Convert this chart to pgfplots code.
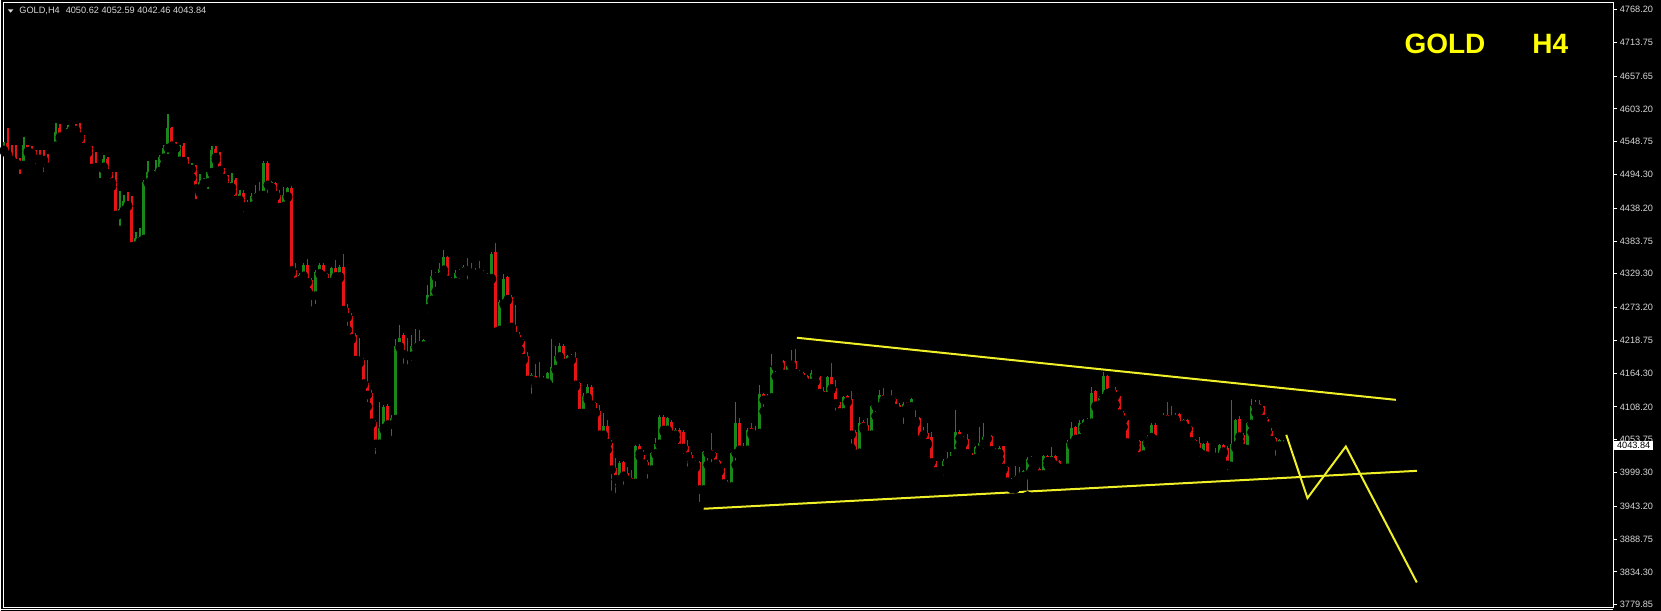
\documentclass[border=0pt]{standalone}
\usepackage{fontspec}
\setmainfont{Liberation Sans}
\usepackage{pgfplots}
\usepackage{pgfplotstable}
\pgfplotsset{compat=1.18}
\definecolor{bullc}{RGB}{25,135,25}
\definecolor{bearc}{RGB}{230,20,20}
\definecolor{ylw}{RGB}{240,240,40}
\definecolor{gylw}{RGB}{255,255,0}
\definecolor{lbl}{RGB}{215,215,215}

\pgfplotstableread{
i o h l c
0 4535 4549 4532 4546
1 4546 4572 4524 4527
2 4530 4543 4510 4518
3 4521 4543 4507 4513
4 4516 4521 4488 4510
5 4510 4557 4508 4543
6 4543 4544 4530 4533
7 4538 4541 4518 4530
8 4531 4535 4505 4520
9 4522 4535 4510 4520
10 4521 4535 4491 4518
11 4520 4528 4502 4507
12 4507 4511 4503 4509
13 4542 4579 4532 4565
14 4571 4578 4554 4557
15 4559 4567 4552 4564
16 4563 4576 4553 4571
17 4569 4575 4554 4571
18 4571 4578 4563 4568
19 4573 4579 4554 4557
20 4557 4559 4526 4540
21 4542 4543 4530 4537
22 4539 4541 4502 4505
23 4508 4532 4505 4506
24 4506 4513 4481 4510
25 4507 4527 4502 4520
26 4520 4524 4494 4496
27 4496 4499 4474 4481
28 4481 4498 4424 4427
29 4428 4466 4402 4437
30 4435 4460 4433 4450
31 4449 4465 4441 4443
32 4447 4458 4369 4375
33 4376 4399 4369 4388
34 4383 4405 4377 4390
35 4387 4485 4380 4482
36 4481 4517 4480 4498
37 4499 4500 4488 4494
38 4491 4518 4488 4502
39 4500 4527 4499 4524
40 4522 4543 4510 4538
41 4538 4594 4521 4572
42 4572 4573 4539 4542
43 4546 4549 4537 4538
44 4517 4543 4516 4541
45 4541 4546 4510 4516
46 4517 4524 4499 4505
47 4503 4513 4489 4507
48 4507 4510 4446 4471
49 4471 4495 4463 4481
50 4480 4488 4477 4485
51 4481 4499 4463 4498
52 4498 4541 4496 4535
53 4536 4541 4518 4523
54 4528 4532 4491 4501
55 4502 4505 4482 4488
56 4491 4494 4460 4473
57 4473 4496 4466 4482
58 4485 4488 4449 4452
59 4452 4469 4438 4462
60 4464 4469 4425 4441
61 4441 4452 4433 4445
62 4442 4463 4423 4458
63 4456 4477 4446 4463
64 4464 4482 4458 4460
65 4460 4516 4458 4513
66 4513 4516 4456 4477
67 4473 4484 4470 4481
68 4480 4482 4458 4460
69 4460 4469 4435 4440
70 4442 4474 4427 4460
71 4458 4473 4456 4471
72 4471 4475 4331 4335
73 4336 4347 4313 4316
74 4319 4331 4311 4328
75 4326 4348 4311 4344
76 4344 4354 4300 4315
77 4319 4322 4268 4293
78 4293 4335 4272 4333
79 4330 4347 4328 4344
80 4344 4348 4322 4326
81 4329 4331 4313 4315
82 4316 4341 4315 4339
83 4339 4352 4322 4325
84 4325 4344 4322 4341
85 4341 4363 4264 4269
86 4272 4279 4236 4257
87 4259 4264 4220 4222
88 4228 4231 4173 4186
89 4185 4222 4181 4188
90 4186 4189 4145 4147
91 4148 4186 4109 4128
92 4131 4137 4080 4082
93 4084 4086 4023 4047
94 4047 4117 4037 4073
95 4073 4112 4070 4108
96 4110 4113 4076 4079
97 4079 4095 4053 4090
98 4088 4221 4073 4210
99 4209 4245 4206 4222
100 4228 4231 4173 4196
101 4199 4222 4171 4193
102 4193 4228 4178 4210
103 4207 4237 4197 4214
104 4214 4236 4203 4210
105 4210 4221 4207 4220
106 4272 4311 4258 4294
107 4286 4336 4283 4326
108 4328 4333 4300 4324
109 4324 4348 4320 4337
110 4336 4368 4331 4357
111 4358 4359 4316 4319
112 4322 4324 4305 4315
113 4315 4336 4308 4331
114 4329 4337 4314 4336
115 4333 4344 4330 4341
116 4340 4355 4313 4335
117 4336 4347 4328 4330
118 4335 4339 4326 4329
119 4333 4350 4328 4331
120 4333 4335 4316 4325
121 4328 4330 4316 4322
122 4322 4365 4320 4363
123 4365 4381 4220 4233
124 4236 4286 4233 4283
125 4280 4329 4278 4320
126 4324 4326 4285 4287
127 4290 4294 4236 4241
128 4243 4278 4222 4226
129 4228 4233 4203 4217
130 4218 4221 4186 4189
131 4192 4199 4148 4153
132 4153 4164 4123 4162
133 4160 4180 4142 4150
134 4154 4182 4142 4150
135 4150 4159 4142 4156
136 4148 4167 4138 4164
137 4141 4221 4139 4175
138 4171 4209 4170 4192
139 4192 4215 4189 4209
140 4210 4213 4171 4181
141 4182 4195 4175 4192
142 4192 4196 4186 4187
143 4189 4199 4142 4145
144 4148 4150 4095 4098
145 4098 4131 4092 4126
146 4124 4147 4120 4142
147 4142 4145 4109 4112
148 4115 4117 4098 4099
149 4101 4112 4053 4062
150 4062 4098 4059 4076
151 4076 4087 4037 4048
152 4049 4054 3962 4004
153 4007 4023 3957 3988
154 3988 4018 3976 4015
155 4016 4019 3966 3994
156 3998 4009 3973 3987
157 3990 4004 3976 3982
158 3982 4045 3979 4043
159 4044 4047 4026 4031
160 4029 4037 4004 4014
161 4016 4020 3982 4004
162 4004 4034 3999 4031
163 4031 4056 4029 4047
164 4047 4095 4044 4091
165 4092 4095 4067 4070
166 4070 4092 4065 4090
167 4084 4087 4052 4062
168 4062 4073 4054 4070
169 4070 4073 4034 4040
170 4067 4070 4023 4040
171 4043 4054 4001 4026
172 4029 4033 4008 4016
173 4018 4020 4007 4012
174 4016 4018 3943 3971
175 3971 4035 3968 4034
176 4031 4038 4012 4036
177 4036 4065 4009 4029
178 4031 4034 4009 4014
179 4018 4020 4001 4007
180 4007 4009 3976 3981
181 3983 3987 3962 3976
182 3976 4034 3973 4031
183 4031 4116 4012 4081
184 4081 4090 4034 4037
185 4043 4048 4029 4036
186 4037 4073 4034 4070
187 4073 4081 4062 4065
188 4062 4076 4054 4066
189 4065 4145 4062 4130
190 4130 4132 4101 4120
191 4120 4130 4117 4127
192 4124 4196 4123 4175
193 4175 4182 4159 4178
194 4178 4185 4175 4182
195 4184 4186 4154 4163
196 4163 4178 4161 4176
197 4178 4203 4175 4185
198 4185 4204 4161 4164
199 4167 4169 4147 4161
200 4165 4167 4145 4154
201 4159 4161 4137 4148
202 4148 4169 4147 4165
203 4165 4167 4150 4160
204 4160 4161 4126 4131
205 4134 4142 4117 4126
206 4126 4160 4123 4158
207 4158 4181 4137 4139
208 4139 4153 4095 4114
209 4116 4117 4095 4099
210 4099 4127 4098 4124
211 4126 4128 4116 4117
212 4121 4135 4040 4062
213 4066 4070 4022 4030
214 4032 4092 4031 4081
215 4084 4087 4071 4075
216 4078 4090 4055 4062
217 4062 4112 4059 4109
218 4109 4117 4093 4112
219 4109 4137 4106 4128
220 4128 4139 4117 4120
221 4123 4128 4121 4126
222 4126 4137 4109 4120
223 4121 4123 4103 4106
224 4112 4114 4093 4101
225 4102 4117 4073 4113
226 4116 4117 4097 4109
227 4109 4123 4106 4121
228 4090 4103 4081 4084
229 4090 4091 4053 4054
230 4062 4075 4045 4066
231 4065 4082 4045 4048
232 4059 4067 4001 4016
233 4018 4019 3988 4001
234 4007 4009 3993 4001
235 4003 4022 3984 4019
236 4016 4034 4014 4023
237 4020 4034 4015 4033
238 4031 4103 4029 4067
239 4067 4070 4044 4056
240 4058 4060 4048 4051
241 4055 4064 4029 4031
242 4031 4034 4018 4021
243 4023 4044 4020 4041
244 4037 4075 4034 4048
245 4047 4082 4027 4058
246 4056 4064 4055 4059
247 4060 4062 4025 4036
248 4038 4040 4023 4031
249 4031 4044 4021 4040
250 4043 4044 4004 4007
251 4009 4010 3977 3984
252 3981 3990 3972 3987
253 3986 4010 3972 3993
254 3992 4009 3976 3996
255 3993 4004 3990 4001
256 3996 4025 3961 4022
257 4023 4026 4003 4018
258 4016 4022 4010 4019
259 4005 4012 3990 3996
260 3996 4029 3983 4026
261 4026 4029 4012 4018
262 4018 4041 4015 4027
263 4027 4029 4008 4012
264 4018 4020 3999 4007
265 4007 4014 3999 4012
266 4007 4054 4004 4049
267 4048 4084 4044 4073
268 4075 4077 4051 4055
269 4056 4087 4044 4082
270 4075 4088 4070 4086
271 4086 4090 4077 4081
272 4082 4142 4080 4131
273 4134 4137 4108 4110
274 4112 4127 4110 4123
275 4123 4167 4109 4160
276 4160 4162 4127 4131
277 4134 4139 4117 4137
278 4137 4142 4112 4126
279 4126 4128 4093 4097
280 4098 4101 4075 4087
281 4087 4088 4041 4049
282 4049 4056 4041 4054
283 4053 4055 4041 4048
284 4051 4053 4023 4026
285 4029 4054 4026 4051
286 4051 4062 4047 4059
287 4058 4082 4056 4079
288 4079 4081 4049 4054
289 4056 4058 4052 4054
290 4088 4098 4087 4095
291 4095 4117 4084 4087
292 4091 4109 4084 4087
293 4088 4098 4087 4095
294 4097 4098 4067 4077
295 4079 4088 4077 4087
296 4086 4088 4071 4073
297 4075 4077 4048 4051
298 4053 4055 4040 4045
299 4049 4058 4018 4033
300 4029 4049 4014 4047
301 4048 4051 4025 4027
302 4029 4031 4015 4025
303 4027 4040 4014 4025
304 4025 4047 4021 4045
305 4045 4047 4031 4034
306 4040 4043 3996 4012
307 4010 4119 4008 4047
308 4044 4088 4040 4086
309 4088 4093 4051 4059
310 4062 4065 4029 4040
311 4038 4084 4037 4081
312 4080 4121 4066 4110
313 4109 4120 4099 4113
314 4113 4119 4102 4105
315 4109 4110 4075 4088
316 4088 4092 4066 4077
317 4069 4073 4051 4053
318 4056 4059 4020 4044
319 4044 4055 4043 4053
320 4050.62 4052.59 4042.46 4043.84
}\candles

\begin{document}
\begin{tikzpicture}
\fill[black] (0,0) rectangle (830.5pt,305.5pt);
\begin{axis}[
  at={(1.25pt,1.75pt)}, anchor=south west,
  scale only axis, width=805.25pt, height=302.5pt,
  xmin=-0.2, xmax=402.425, ymin=3775.55, ymax=4779.85,
  axis line style={draw=white, line width=0.5pt},
  xtick=\empty,
  scaled y ticks=false,
  ytick={3779.85,3834.30,3888.75,3943.20,3999.30,4053.75,4108.20,4164.30,4218.75,4273.20,4329.30,4383.75,4438.20,4494.30,4548.75,4603.20,4657.65,4713.75,4768.20},
  yticklabels={3779.85,3834.30,3888.75,3943.20,3999.30,4053.75,4108.20,4164.30,4218.75,4273.20,4329.30,4383.75,4438.20,4494.30,4548.75,4603.20,4657.65,4713.75,4768.20},
  ytick pos=right, yticklabel pos=right,
  tick align=outside, major tick length=2pt,
  tick style={draw=white, line width=0.5pt},
  yticklabel style={font=\fontsize{4.6}{5}\selectfont, text=lbl, inner sep=1.2pt},
  extra y ticks={4043.84}, extra y tick labels={4043.84},
  extra y tick style={major tick length=0.5pt, yticklabel style={fill=white, text=black, inner xsep=1.3pt, inner ysep=0.6pt}},
]
% wicks
\addplot[only marks, mark=none, error bars/.cd, y dir=plus, y explicit, error mark=none,
  error bar style={draw=bearc, line width=0.6pt}]
  table[x=i, y expr={\thisrow{c}<\thisrow{o} ? \thisrow{l} : nan}, y error plus expr={\thisrow{h}-\thisrow{l}}] {\candles};
\addplot[only marks, mark=none, error bars/.cd, y dir=plus, y explicit, error mark=none,
  error bar style={draw=bullc, line width=0.6pt}]
  table[x=i, y expr={\thisrow{c}>=\thisrow{o} ? \thisrow{l} : nan}, y error plus expr={\thisrow{h}-\thisrow{l}}] {\candles};
% bodies
\addplot[only marks, mark=none, error bars/.cd, y dir=plus, y explicit, error mark=none,
  error bar style={draw=bearc, line width=1.5pt}]
  table[x=i, y expr={\thisrow{c}<\thisrow{o} ? \thisrow{c} : nan}, y error plus expr={\thisrow{o}-\thisrow{c}}] {\candles};
\addplot[only marks, mark=none, error bars/.cd, y dir=plus, y explicit, error mark=none,
  error bar style={draw=bullc, line width=1.5pt}]
  table[x=i, y expr={\thisrow{c}>=\thisrow{o} ? \thisrow{o} : nan}, y error plus expr={\thisrow{c}-\thisrow{o}}] {\candles};
% trend lines
\addplot[ylw, line width=1pt, mark=none] coordinates {(198.3,4223.1) (348.1,4120.0)};
\addplot[ylw, line width=1pt, mark=none] coordinates {(175.0,3939.1) (353.35,4002.1)};
\addplot[ylw, line width=1pt, mark=none] coordinates {(320.7,4061.9) (326.0,3956.8) (335.6,4042.5) (353.35,3816.7)};
\end{axis}
\draw[white, line width=0.5pt] (0,0.5pt) -- (806.5pt,0.5pt);
\fill[lbl] (3.5pt,300.85pt) -- (6.35pt,300.85pt) -- (4.925pt,299.15pt) -- cycle;
\node[anchor=base west, inner sep=0pt, text=lbl, font=\fontsize{4.6}{5}\selectfont] at (9.15pt,298.5pt) {GOLD,H4\hspace{3pt}4050.62 4052.59 4042.46 4043.84};
\node[anchor=base west, inner sep=0pt, text=gylw, font=\bfseries\fontsize{14}{16}\selectfont] at (702pt,278.85pt) {GOLD};
\node[anchor=base west, inner sep=0pt, text=gylw, font=\bfseries\fontsize{14}{16}\selectfont] at (766pt,278.85pt) {H4};
\end{tikzpicture}
\end{document}
